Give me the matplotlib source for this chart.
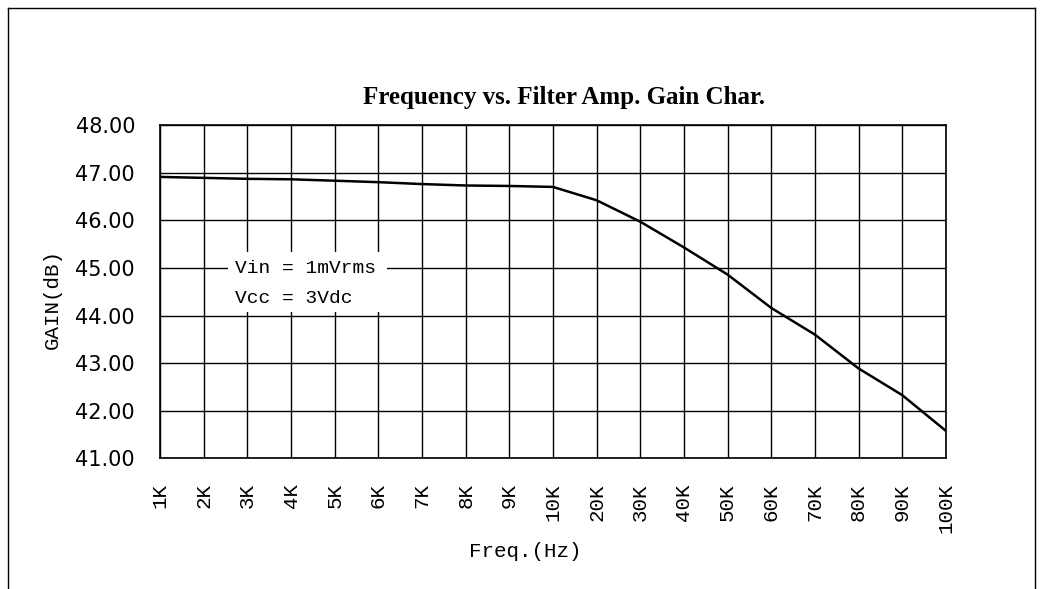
import matplotlib
matplotlib.use("Agg")
import matplotlib.pyplot as plt
from matplotlib.lines import Line2D
from matplotlib.patches import Rectangle

freqs = ['1K', '2K', '3K', '4K', '5K', '6K', '7K', '8K', '9K', '10K',
         '20K', '30K', '40K', '50K', '60K', '70K', '80K', '90K', '100K']
gain = [46.91, 46.89, 46.87, 46.86, 46.83, 46.80, 46.76, 46.73, 46.72, 46.70,
        46.42, 45.97, 45.43, 44.86, 44.16, 43.60, 42.89, 42.33, 41.58]
yticks = [41, 42, 43, 44, 45, 46, 47, 48]

fig = plt.figure(figsize=(10.44, 5.89), dpi=100)
ax = fig.add_axes([0.1533, 0.2216, 0.7527, 0.5662])

x = list(range(len(freqs)))
ax.plot(x, gain, color='black', lw=1.8, zorder=5)

ax.set_xlim(0, len(freqs) - 1)
ax.set_ylim(41, 48)
ax.set_xticks(x)
ax.set_xticklabels(freqs, rotation=90, family='Liberation Mono', fontsize=15)
ax.set_yticks(yticks)
ax.set_yticklabels(['%.2f' % v for v in yticks], family='DejaVu Sans', fontsize=15)
ax.tick_params(length=0, pad=18)
ax.grid(True, color='black', lw=1.0)
ax.set_axisbelow(True)
for s in ax.spines.values():
    s.set_linewidth(1.2)

# white box behind the note, it cuts the grid
ax.add_patch(Rectangle((1.55, 44.08), 3.65, 1.25, facecolor='white',
                       edgecolor='none', zorder=3))
ax.text(1.72, 44.98, 'Vin = 1mVrms', family='Liberation Mono', fontsize=14,
        va='center', zorder=4)
ax.text(1.72, 44.36, 'Vcc = 3Vdc', family='Liberation Mono', fontsize=14,
        va='center', zorder=4)

fig.text(0.54, 0.835, 'Frequency vs. Filter Amp. Gain Char.', ha='center',
         va='center', family='Liberation Serif', fontweight='bold', fontsize=18)
fig.text(0.503, 0.064, 'Freq.(Hz)', ha='center', va='center',
         family='Liberation Mono', fontsize=15)
fig.text(0.05, 0.493, 'GAIN(dB)', ha='center', va='center', rotation=90,
         family='Liberation Mono', fontsize=15)

# outer frame of the page
fig.add_artist(Line2D([0.008, 0.008], [0, 0.986], color='black', lw=1))
fig.add_artist(Line2D([0.008, 0.991], [0.986, 0.986], color='black', lw=1))
fig.add_artist(Line2D([0.991, 0.991], [0, 0.986], color='black', lw=1))

fig.savefig('out.png', dpi=100)
